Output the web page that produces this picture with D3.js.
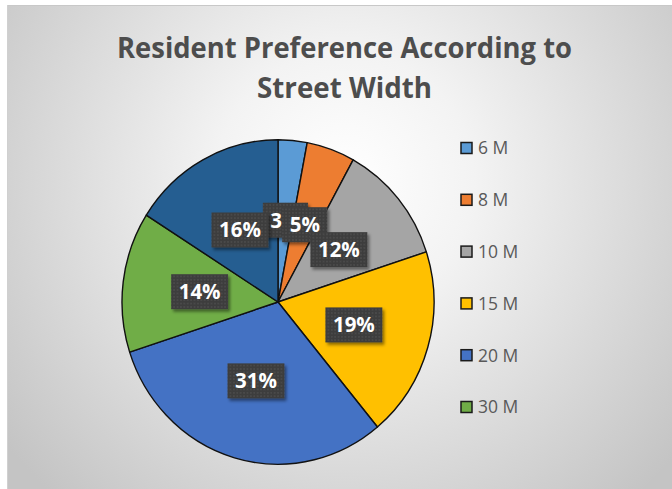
<!DOCTYPE html>
<html><head><meta charset="utf-8">
<script src="https://cdn.jsdelivr.net/npm/d3@7"></script>
<style>body{margin:0;background:#fff;}svg{display:block;}</style>
</head><body>
<div id="chart"></div>
<script>
const titleLines = ["Resident Preference According to", "Street Width"];
const categories = ["6 M", "8 M", "10 M", "15 M", "20 M", "30 M", ""];
const values = [3, 5, 12, 19, 31, 14, 16];
// visible label texts (the 6 M label is cut to "3" in the reference, hidden under the 5% box)
const labels = ["3", "5%", "12%", "19%", "31%", "14%", "16%"];
const colors = ["#5B9BD5", "#ED7D31", "#A5A5A5", "#FFC000", "#4472C4", "#70AD47", "#255E91"];
const legendCount = 6;

const W = 672, H = 489;
const svg = d3.select("#chart").append("svg").attr("width", W).attr("height", H);
const defs = svg.append("defs");

const rg = defs.append("radialGradient").attr("id", "bg")
  .attr("gradientUnits", "userSpaceOnUse").attr("cx", 345).attr("cy", 180).attr("r", 430);
rg.append("stop").attr("offset", 0).attr("stop-color", "#ffffff");
rg.append("stop").attr("offset", 0.3).attr("stop-color", "#f3f3f3");
rg.append("stop").attr("offset", 1).attr("stop-color", "#c4c4c4");

const pat = defs.append("pattern").attr("id", "dots").attr("patternUnits", "userSpaceOnUse")
  .attr("width", 3.4).attr("height", 3.4);
pat.append("rect").attr("width", 3.4).attr("height", 3.4).attr("fill", "#3e3e3e");
pat.append("circle").attr("cx", 1.7).attr("cy", 1.7).attr("r", 0.7).attr("fill", "#595959");

const sh = defs.append("filter").attr("id", "shadow").attr("x", "-30%").attr("y", "-30%").attr("width", "160%").attr("height", "160%");
sh.append("feDropShadow").attr("dx", 2).attr("dy", 2.5).attr("stdDeviation", 1.8)
  .attr("flood-color", "#000").attr("flood-opacity", 0.45);

// background
svg.append("rect").attr("x", 7).attr("y", 5).attr("width", W - 7).attr("height", H - 5)
  .attr("fill", "url(#bg)");
svg.append("line").attr("x1", 7).attr("x2", W).attr("y1", 5.5).attr("y2", 5.5)
  .attr("stroke", "#c8c8c8").attr("stroke-width", 1);
svg.append("line").attr("x1", 7.5).attr("x2", 7.5).attr("y1", 5).attr("y2", H)
  .attr("stroke", "#d0d0d0").attr("stroke-width", 1);

// title
const tx = 344.5;
const titleY = [58, 98];
const titleW = [455, 175];
titleLines.forEach((t, i) => {
  svg.append("text").attr("x", tx).attr("y", titleY[i]).attr("text-anchor", "middle")
    .attr("font-family", "'Open Sans', sans-serif").attr("font-weight", 700)
    .attr("font-size", 29).attr("fill", "#4d4d4d")
    .attr("textLength", titleW[i]).attr("lengthAdjust", "spacingAndGlyphs")
    .text(t);
});

// pie
const cx = 278, cy = 302, R = 156, sy = 1.04;
const pie = d3.pie().sort(null).value(d => d);
const arcs = pie(values);
const arc = d3.arc().innerRadius(0).outerRadius(R);
const g = svg.append("g").attr("transform", `translate(${cx},${cy}) scale(1,${sy})`);
g.selectAll("path").data(arcs).join("path")
  .attr("d", arc).attr("fill", (d, i) => colors[i])
  .attr("stroke", "#111").attr("stroke-width", 1.4)
  .attr("vector-effect", "non-scaling-stroke").attr("stroke-linejoin", "round");

// labels
const labArc = d3.arc().innerRadius(79).outerRadius(79);
const lg = svg.append("g");
const fontAttrs = sel => sel.attr("font-family", "'Open Sans', sans-serif").attr("font-weight", 700)
  .attr("font-size", 20.5);
arcs.forEach((d, i) => {
  const [px, py] = labArc.centroid(d);
  const x = cx + px, y = cy + py * sy;
  const grp = lg.append("g").attr("transform", `translate(${x},${y})`);
  const rect = grp.append("rect").attr("fill", "url(#dots)").attr("filter", "url(#shadow)");
  // measure full percentage to size the box
  const m = grp.append("text").call(fontAttrs).attr("opacity", 0).text(values[i] + "%");
  const fw = m.node().getComputedTextLength();
  m.remove();
  grp.append("text").call(fontAttrs).attr("x", -fw / 2).attr("dy", "0.36em")
    .attr("fill", "#ffffff").text(labels[i]);
  const bw = fw + 15, bh = 35;
  rect.attr("x", -bw / 2).attr("y", -bh / 2).attr("width", bw).attr("height", bh);
});

// legend
const lx = 461, ly0 = 148, lstep = 51.8, ls = 11;
const leg = svg.append("g");
for (let i = 0; i < legendCount; i++) {
  const y = ly0 + i * lstep;
  leg.append("rect").attr("x", lx).attr("y", y - ls / 2).attr("width", ls).attr("height", ls)
    .attr("fill", colors[i]).attr("stroke", "#1a1a1a").attr("stroke-width", 1.5);
  leg.append("text").attr("x", lx + 17).attr("y", y).attr("dy", "0.36em")
    .attr("font-family", "'Open Sans', sans-serif").attr("font-size", 17.5)
    .attr("fill", "#595959").text(categories[i]);
}
</script>
</body></html>
